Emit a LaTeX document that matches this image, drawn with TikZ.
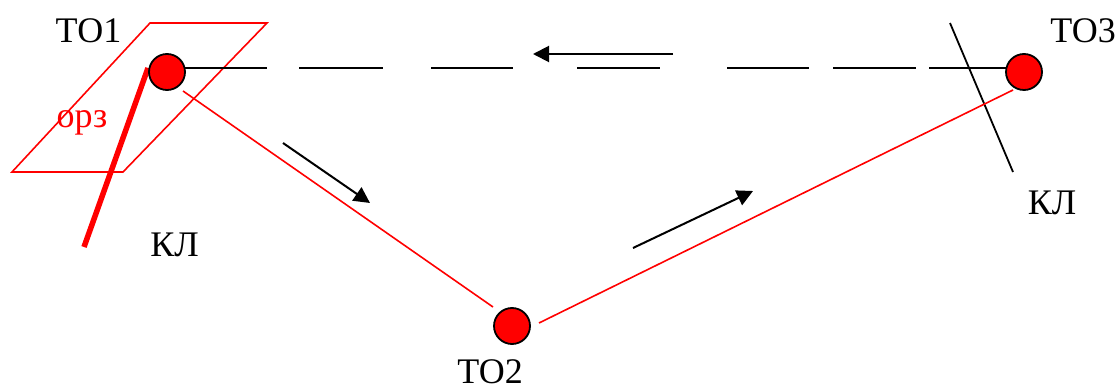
\documentclass[tikz,border=0pt]{standalone}
\usepackage{fontspec}
\setmainfont{Liberation Serif}
\usetikzlibrary{arrows.meta,calc}
\begin{document}
\begin{tikzpicture}[x=1pt,y=-1pt,
  pt/.style={circle,draw=black,fill=red,line width=1.8pt,minimum size=36pt,inner sep=0pt},
  lbl/.style={font=\fontsize{36}{40}\selectfont,anchor=base,inner sep=0pt},
  redline/.style={draw=red,line width=1.6pt},
  dir/.style={draw=black,line width=2pt,-{Triangle[length=16pt,width=16pt]}},
  kl/.style={draw=black,line width=1.8pt}]
\useasboundingbox (0,0) rectangle (1118,387);
% zone parallelogram
\draw[redline] (150,23) -- (267,23) -- (123,172) -- (12,172) -- cycle;
% points (coordinates)
\coordinate (c1) at (167,72);
\coordinate (c2) at (512,326);
\coordinate (c3) at (1024,72);
% dashed line TO1 -- TO3
\draw[black,line width=2pt,dash pattern=on 100pt off 32pt on 84pt off 48pt on 82pt off 64pt on 83pt off 67pt on 82pt off 24pt on 83pt off 13pt on 120pt]
  ([yshift=4pt]c1) -- ([yshift=4pt]c3);
% thick red line
\draw[red,line width=5.5pt] (148,68) -- (84,247);
% black KL line at TO3
\draw[kl] (950,23) -- (1013,172);
% red route lines
\draw[redline] ([shift={(16,19)}]c1) -- ([shift={(-19,-19)}]c2);
\draw[redline] ([shift={(27,-3)}]c2) -- ([shift={(-11,18)}]c3);
% nodes
\node[pt] (TO1) at (c1) {};
\node[pt] (TO2) at (c2) {};
\node[pt] (TO3) at (c3) {};
% direction arrows
\coordinate (a1s) at (283,143); \coordinate (a1e) at (370,203);
\coordinate (a2s) at (633,248); \coordinate (a2e) at (753,191);
\coordinate (a3s) at (673,54);  \coordinate (a3e) at (533,54);
\draw[dir] (a1s) -- (a1e);
\draw[dir] (a2s) -- (a2e);
\draw[dir] (a3s) -- (a3e);
% labels
\node[lbl] (l1) at (88.5,43) {ТО1};
\node[lbl] (l2) at (490,383) {ТО2};
\node[lbl] (l3) at (1083,43) {ТО3};
\node[lbl] (k1) at (174.5,257) {КЛ};
\node[lbl] (k2) at (1052,215) {КЛ};
\node[lbl,text=red] (orz) at (82,128) {орз};
\end{tikzpicture}
\end{document}
